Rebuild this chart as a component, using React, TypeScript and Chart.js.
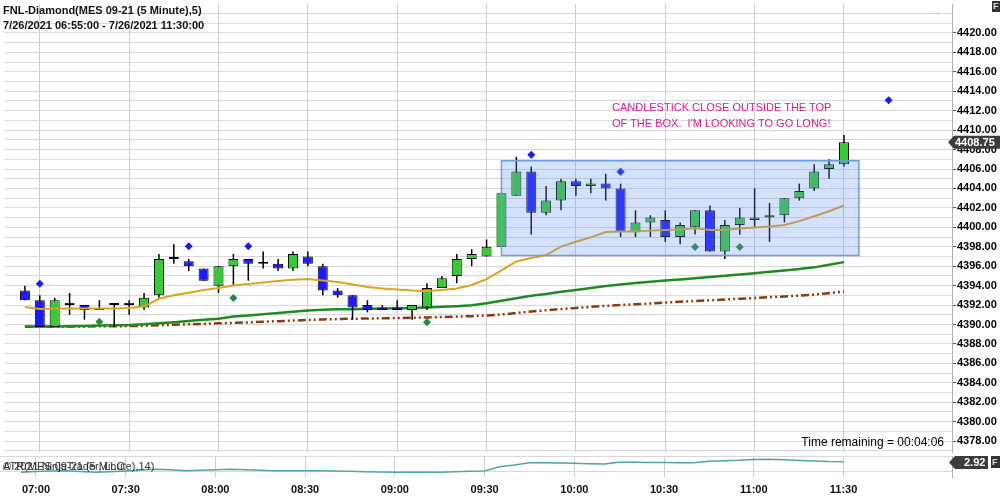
import React, { useEffect, useRef } from "react";
import { Chart, registerables } from "chart.js";

Chart.register(...registerables);

// ---------------- DATA ----------------
const times = [
  "06:55", "07:00", "07:05", "07:10", "07:15", "07:20", "07:25", "07:30", "07:35", "07:40",
  "07:45", "07:50", "07:55", "08:00", "08:05", "08:10", "08:15", "08:20", "08:25", "08:30",
  "08:35", "08:40", "08:45", "08:50", "08:55", "09:00", "09:05", "09:10", "09:15", "09:20",
  "09:25", "09:30", "09:35", "09:40", "09:45", "09:50", "09:55", "10:00", "10:05", "10:10",
  "10:15", "10:20", "10:25", "10:30", "10:35", "10:40", "10:45", "10:50", "10:55", "11:00",
  "11:05", "11:10", "11:15", "11:20", "11:25", "11:30",
];

const opens = [
  4393.5, 4392.5, 4389.75, 4392.25, 4392.0, 4391.5, 4392.0, 4392.25, 4391.75, 4393.0,
  4396.75, 4396.5, 4395.75, 4394.0, 4396.0, 4396.75, 4396.25, 4396.25, 4395.75, 4397.0,
  4396.0, 4393.5, 4393.0, 4392.0, 4391.75, 4391.75, 4391.5, 4391.75, 4393.75, 4395.0,
  4396.75, 4397.0, 4398.0, 4403.25, 4405.75, 4401.5, 4402.75, 4404.75, 4404.25, 4404.5,
  4404.0, 4399.5, 4400.5, 4400.75, 4399.0, 4400.0, 4401.75, 4397.5, 4400.25, 4400.75,
  4401.0, 4401.25, 4403.0, 4404.0, 4406.0, 4406.5,
];
const highs = [
  4394.0, 4393.0, 4392.75, 4393.25, 4392.0, 4392.5, 4392.0, 4392.5, 4393.25, 4397.25,
  4398.25, 4396.75, 4395.75, 4396.0, 4397.25, 4396.75, 4397.5, 4396.75, 4397.5, 4397.5,
  4396.25, 4393.75, 4393.0, 4392.5, 4392.0, 4392.5, 4392.0, 4394.25, 4395.0, 4397.25,
  4397.75, 4398.75, 4403.5, 4407.25, 4406.25, 4404.25, 4405.0, 4405.0, 4405.0, 4405.5,
  4404.5, 4401.75, 4401.25, 4401.75, 4400.5, 4401.75, 4402.25, 4400.75, 4402.0, 4404.0,
  4402.5, 4403.0, 4404.5, 4406.5, 4407.0, 4409.5,
];
const lows = [
  4392.5, 4389.75, 4389.75, 4391.0, 4390.5, 4391.5, 4389.75, 4391.0, 4391.5, 4392.75,
  4396.25, 4395.5, 4394.5, 4393.25, 4394.0, 4394.5, 4395.75, 4395.5, 4395.5, 4396.0,
  4393.0, 4392.75, 4390.5, 4391.25, 4391.5, 4391.5, 4390.5, 4391.5, 4393.75, 4394.25,
  4396.0, 4397.0, 4398.0, 4403.25, 4399.25, 4401.25, 4401.75, 4403.25, 4403.5, 4402.75,
  4399.0, 4399.0, 4399.0, 4398.5, 4398.25, 4399.25, 4397.5, 4396.75, 4399.25, 4400.0,
  4398.5, 4400.5, 4402.75, 4403.75, 4405.0, 4406.25,
];
const closes = [
  4392.5, 4389.75, 4392.5, 4392.0, 4391.5, 4391.5, 4392.0, 4392.0, 4392.75, 4396.75,
  4396.75, 4396.0, 4394.5, 4396.0, 4396.75, 4396.25, 4396.25, 4395.75, 4397.25, 4396.25,
  4393.5, 4393.0, 4391.75, 4391.5, 4391.5, 4391.5, 4392.0, 4393.75, 4394.75, 4396.75,
  4397.25, 4398.0, 4403.5, 4405.75, 4401.5, 4402.75, 4404.75, 4404.25, 4404.5, 4404.0,
  4399.5, 4400.5, 4401.0, 4399.0, 4400.25, 4401.75, 4397.5, 4400.25, 4401.0, 4401.0,
  4401.25, 4403.0, 4403.75, 4405.75, 4406.5, 4408.75,
];

// fast moving average (gold)
const fastMA = [
  4391.81, 4391.59, 4391.64, 4391.64, 4391.64, 4391.64, 4391.64, 4391.69, 4391.84, 4392.65,
  4393.0, 4393.26, 4393.56, 4393.76, 4394.01, 4394.17, 4394.32, 4394.47, 4394.6, 4394.67,
  4394.52, 4394.37, 4394.12, 4393.86, 4393.71, 4393.59, 4393.49, 4393.43, 4393.56, 4393.71,
  4394.06, 4394.67, 4395.58, 4396.49, 4396.85, 4397.15, 4398.01, 4398.51, 4398.97, 4399.52,
  4399.56, 4399.56, 4399.66, 4399.73, 4399.78, 4399.9, 4399.73, 4399.73, 4399.88, 4399.98,
  4400.08, 4400.23, 4400.64, 4401.14, 4401.65, 4402.25,
];
// medium moving average (green)
const midMA = [
  4389.79, 4389.79, 4389.8, 4389.82, 4389.85, 4389.89, 4389.92, 4389.95, 4390.02, 4390.12,
  4390.22, 4390.35, 4390.48, 4390.6, 4390.83, 4390.93, 4391.05, 4391.18, 4391.31, 4391.44,
  4391.52, 4391.56, 4391.58, 4391.61, 4391.64, 4391.67, 4391.71, 4391.76, 4391.82, 4391.89,
  4391.97, 4392.19, 4392.45, 4392.7, 4392.95, 4393.15, 4393.36, 4393.56, 4393.76, 4393.96,
  4394.12, 4394.27, 4394.39, 4394.52, 4394.64, 4394.75, 4394.88, 4395.02, 4395.15, 4395.28,
  4395.42, 4395.56, 4395.7, 4395.88, 4396.14, 4396.42,
];
// slow moving average (brown dash-dot)
const slowMA = [
  4389.77, 4389.77, 4389.78, 4389.79, 4389.8, 4389.81, 4389.82, 4389.84, 4389.87, 4389.92,
  4389.97, 4390.02, 4390.07, 4390.12, 4390.17, 4390.22, 4390.28, 4390.34, 4390.4, 4390.47,
  4390.52, 4390.56, 4390.59, 4390.62, 4390.64, 4390.67, 4390.7, 4390.73, 4390.77, 4390.81,
  4390.86, 4390.93, 4391.03, 4391.18, 4391.33, 4391.47, 4391.59, 4391.7, 4391.81, 4391.92,
  4392.01, 4392.09, 4392.17, 4392.26, 4392.35, 4392.42, 4392.49, 4392.57, 4392.65, 4392.73,
  4392.81, 4392.89, 4392.97, 4393.08, 4393.22, 4393.39,
];
// ATR(14)
const atr = [
  1.6, 1.7, 1.76, 1.8, 1.7, 1.6, 1.66, 1.76, 1.89, 1.97,
  1.91, 1.8, 1.85, 1.92, 1.97, 1.91, 1.85, 1.8, 1.8, 1.8,
  1.8, 1.76, 1.72, 1.67, 1.64, 1.6, 1.6, 1.6, 1.6, 1.66,
  1.72, 1.76, 2.3, 2.51, 2.8, 2.8, 2.76, 2.72, 2.67, 2.63,
  2.85, 2.85, 2.82, 2.82, 2.8, 2.8, 2.97, 3.04, 3.09, 3.19,
  3.22, 3.16, 3.07, 3.01, 2.94, 2.92,
];

const blueSignalTimes = ["07:00", "07:50", "08:10", "09:45", "10:15", "11:45"];
const blueSignalPrices = [4394.2, 4398.04, 4398.04, 4407.48, 4405.72, 4413.07];
const greenSignalTimes = ["07:20", "08:05", "09:10", "10:40", "10:55"];
const greenSignalPrices = [4390.29, 4392.72, 4390.22, 4397.98, 4397.98];

const xTickLabels = ["07:00", "07:30", "08:00", "08:30", "09:00", "09:30", "10:00", "10:30", "11:00", "11:30"];
const priceTickLabels = [
  "4378.00", "4380.00", "4382.00", "4384.00", "4386.00", "4388.00", "4390.00", "4392.00",
  "4394.00", "4396.00", "4398.00", "4400.00", "4402.00", "4404.00", "4406.00", "4408.00",
  "4410.00", "4412.00", "4414.00", "4416.00", "4418.00", "4420.00",
];

// box drawn on the chart (time / price coordinates)
const boxStart = "09:35";
const boxEnd = "11:35";
const boxTop = 4406.85;
const boxBottom = 4397.1;

// ---------------- HELPERS / STYLE ----------------
const FONT = "'Liberation Sans', Arial, Helvetica, sans-serif";
const toMin = (t: string) => {
  const [h, m] = t.split(":").map(Number);
  return h * 60 + m;
};
const X_MIN = 407.98;
const X_MAX = 726.27;
const Y_MIN = 4376.88;
const Y_MAX = 4422.98;
const ATR_MIN = 1.015;
const ATR_MAX = 3.63;
const AXIS_W = 48;

const UP = "#33cc33";
const DOWN = "#1a1aff";

function drawTag(ctx: CanvasRenderingContext2D, xLeft: number, y: number, text: string, right: number, textX: number) {
  ctx.save();
  ctx.fillStyle = "#3c3c3c";
  ctx.beginPath();
  ctx.moveTo(xLeft, y);
  ctx.lineTo(xLeft + 6, y - 6.5);
  ctx.lineTo(right, y - 6.5);
  ctx.lineTo(right, y + 6.5);
  ctx.lineTo(xLeft + 6, y + 6.5);
  ctx.closePath();
  ctx.fill();
  ctx.fillStyle = "#ffffff";
  ctx.font = `bold 11px ${FONT}`;
  ctx.textBaseline = "middle";
  ctx.textAlign = "left";
  ctx.fillText(text, textX, y + 0.5);
  ctx.restore();
}

const boxPlugin = {
  id: "rangeBox",
  afterDatasetsDraw(chart: any) {
    const { ctx, chartArea: a, scales } = chart;
    const x = scales.x;
    const y = scales.y;
    const l = x.getPixelForValue(toMin(boxStart));
    const r = x.getPixelForValue(toMin(boxEnd));
    const t = y.getPixelForValue(boxTop);
    const b = y.getPixelForValue(boxBottom);
    ctx.save();
    ctx.beginPath();
    ctx.rect(a.left, a.top, a.right - a.left, a.bottom - a.top);
    ctx.clip();
    ctx.fillStyle = "rgba(100,149,237,0.28)";
    ctx.fillRect(l, t, r - l, b - t);
    ctx.strokeStyle = "#6d9be8";
    ctx.lineWidth = 1.5;
    ctx.strokeRect(l, t, r - l, b - t);
    ctx.restore();
  },
};

const priceTagPlugin = {
  id: "priceTag",
  afterDraw(chart: any) {
    const { ctx, chartArea: a, scales } = chart;
    const last = closes[closes.length - 1];
    const y = scales.y.getPixelForValue(last);
    drawTag(ctx, a.right - 4, y, last.toFixed(2), 1000, a.right + 3);
  },
};

const atrTagPlugin = {
  id: "atrTag",
  afterDraw(chart: any) {
    const { ctx, chartArea: a, scales } = chart;
    const last = atr[atr.length - 1];
    const y = Math.max(6.5, scales.y.getPixelForValue(last));
    drawTag(ctx, a.right - 3, y, last.toFixed(2), 988, a.right + 12);
  },
};

function xScale(showLabels: boolean, height: number) {
  return {
    type: "linear",
    min: X_MIN,
    max: X_MAX,
    offset: false,
    grid: { color: "#cccccc", drawTicks: false, offset: false, lineWidth: 1 },
    border: { display: false },
    ticks: {
      display: showLabels,
      autoSkip: false,
      maxRotation: 0,
      padding: 6,
      color: "#111",
      font: { family: FONT, size: 11, weight: "bold" },
      callback: (v: number) => {
        const idx = xTickLabels.findIndex((l) => toMin(l) === v);
        return idx >= 0 ? xTickLabels[idx] : "";
      },
    },
    afterBuildTicks: (s: any) => {
      s.ticks = xTickLabels.map((l) => ({ value: toMin(l) }));
    },
    afterFit: (s: any) => {
      s.height = height;
      s.paddingLeft = 0;
      s.paddingRight = 0;
    },
  };
}

function topConfig(): any {
  const xs = times.map(toMin);
  const datasets: any[] = [
    {
      type: "line",
      label: "slow",
      data: xs.map((x, i) => ({ x, y: slowMA[i] })),
      borderColor: "#8b3a12",
      borderWidth: 2.5,
      borderDash: [8, 3, 2, 3, 2, 3],
      pointRadius: 0,
      tension: 0,
      fill: false,
      order: 10,
    },
    {
      type: "line",
      label: "mid",
      data: xs.map((x, i) => ({ x, y: midMA[i] })),
      borderColor: "#1f8a1f",
      borderWidth: 2.5,
      pointRadius: 0,
      tension: 0,
      fill: false,
      order: 9,
    },
    {
      type: "bar",
      label: "wicks",
      data: xs.map((x, i) => ({ x, y: [lows[i], highs[i]] })),
      backgroundColor: "#000",
      borderWidth: 0,
      grouped: false,
      maxBarThickness: 1.5,
      minBarLength: 1,
      order: 8,
    },
    {
      type: "bar",
      label: "bodies",
      data: xs.map((x, i) => ({ x, y: [opens[i], closes[i]] })),
      backgroundColor: xs.map((_, i) => (closes[i] >= opens[i] ? UP : DOWN)),
      borderColor: "#000",
      borderWidth: 1,
      borderSkipped: false,
      grouped: false,
      maxBarThickness: 10,
      minBarLength: 2,
      order: 7,
    },
    {
      type: "line",
      label: "fast",
      data: xs.map((x, i) => ({ x, y: fastMA[i] })),
      borderColor: "#daa520",
      borderWidth: 2,
      pointRadius: 0,
      tension: 0,
      fill: false,
      order: 6,
    },
    {
      type: "line",
      label: "blue",
      data: blueSignalTimes.map((t, i) => ({ x: toMin(t), y: blueSignalPrices[i] })),
      showLine: false,
      pointStyle: "rectRot",
      pointRadius: 4,
      pointBackgroundColor: DOWN,
      pointBorderWidth: 0,
      order: 2,
    },
    {
      type: "line",
      label: "green",
      data: greenSignalTimes.map((t, i) => ({ x: toMin(t), y: greenSignalPrices[i] })),
      showLine: false,
      pointStyle: "rectRot",
      pointRadius: 4,
      pointBackgroundColor: "#1f8a3c",
      pointBorderWidth: 0,
      order: 2,
    },
  ];
  const labelled = priceTickLabels.map(Number);
  return {
    type: "line",
    data: { datasets },
    options: {
      responsive: false,
      animation: false,
      devicePixelRatio: 1,
      events: [],
      layout: { padding: 0 },
      plugins: { legend: { display: false }, tooltip: { enabled: false } },
      scales: {
        x: xScale(false, 0),
        y: {
          type: "linear",
          position: "right",
          min: Y_MIN,
          max: Y_MAX,
          beginAtZero: false,
          grid: {
            color: "#d9d9d9",
            drawTicks: true,
            tickLength: 4,
            tickColor: (c: any) => (c.tick && labelled.includes(c.tick.value) ? "#555" : "rgba(0,0,0,0)"),
          },
          border: { display: true, color: "#b0b0b0" },
          ticks: {
            autoSkip: false,
            padding: 1,
            color: "#000",
            font: { family: FONT, size: 11, weight: "bold" },
            callback: (v: number) => {
              const idx = labelled.indexOf(v);
              return idx >= 0 ? priceTickLabels[idx] : "";
            },
          },
          afterBuildTicks: (s: any) => {
            const t: any[] = [];
            for (let v = Math.ceil(Y_MIN); v <= Math.floor(Y_MAX); v++) t.push({ value: v });
            s.ticks = t;
          },
          afterFit: (s: any) => {
            s.width = AXIS_W;
            s.paddingTop = 0;
            s.paddingBottom = 0;
          },
        },
      },
    },
    plugins: [boxPlugin, priceTagPlugin],
  };
}

function bottomConfig(): any {
  const xs = times.map(toMin);
  return {
    type: "line",
    data: {
      datasets: [
        {
          label: "ATR",
          data: xs.map((x, i) => ({ x, y: atr[i] })),
          borderColor: "#4fa6a6",
          borderWidth: 1.5,
          pointRadius: 0,
          tension: 0,
          fill: false,
        },
      ],
    },
    options: {
      responsive: false,
      animation: false,
      devicePixelRatio: 1,
      events: [],
      layout: { padding: 0 },
      plugins: { legend: { display: false }, tooltip: { enabled: false } },
      scales: {
        x: xScale(true, 20),
        y: {
          type: "linear",
          position: "right",
          min: ATR_MIN,
          max: ATR_MAX,
          grid: { color: "#d9d9d9", drawTicks: false },
          border: { display: true, color: "#b0b0b0" },
          ticks: { display: false },
          afterBuildTicks: (s: any) => {
            s.ticks = [{ value: 1.75 }, { value: ATR_MAX }];
          },
          afterFit: (s: any) => {
            s.width = AXIS_W;
            s.paddingTop = 0;
            s.paddingBottom = 0;
          },
        },
      },
    },
    plugins: [atrTagPlugin],
  };
}

export default function App() {
  const topRef = useRef<HTMLCanvasElement>(null);
  const botRef = useRef<HTMLCanvasElement>(null);

  useEffect(() => {
    const top = new Chart(topRef.current as HTMLCanvasElement, topConfig());
    const bot = new Chart(botRef.current as HTMLCanvasElement, bottomConfig());
    return () => {
      top.destroy();
      bot.destroy();
    };
  }, []);

  const abs: React.CSSProperties = { position: "absolute", whiteSpace: "pre", margin: 0 };

  return (
    <div
      style={{
        position: "fixed",
        left: 0,
        top: 0,
        width: 1000,
        height: 497,
        background: "#ffffff",
        overflow: "hidden",
        fontFamily: FONT,
      }}
    >
      <canvas ref={topRef} width={1000} height={456} style={{ position: "absolute", left: 0, top: 0 }} />
      <canvas ref={botRef} width={1000} height={41} style={{ position: "absolute", left: 0, top: 456 }} />

      <div style={{ ...abs, left: 3, top: 3, font: `bold 11px ${FONT}`, lineHeight: "14.5px", color: "#111" }}>
        {"FNL-Diamond(MES 09-21 (5 Minute),5)\n7/26/2021 06:55:00 - 7/26/2021 11:30:00"}
      </div>

      <div style={{ ...abs, left: 612, top: 99, font: `11px ${FONT}`, lineHeight: "16px", color: "#e6168c" }}>
        {"CANDLESTICK CLOSE OUTSIDE THE TOP\nOF THE BOX.  I'M LOOKING TO GO LONG!"}
      </div>

      <div style={{ ...abs, right: 56, top: 435, font: `12px ${FONT}`, lineHeight: "14px", color: "#000" }}>
        Time remaining = 00:04:06
      </div>

      <div style={{ ...abs, left: 3, top: 459, font: `11px ${FONT}`, lineHeight: "14px", color: "#333" }}>
        ATR(MES 09-21 (5 Minute),14)
      </div>
      <div style={{ ...abs, left: 3, top: 459, font: `11px ${FONT}`, lineHeight: "14px", color: "#333" }}>
        © 2021 NinjaTrader, LLC
      </div>

      <div style={{ ...abs, left: 930, top: 4, font: `12px ${FONT}`, lineHeight: "14px", color: "#c4c4c4" }}>→</div>

      <div
        style={{
          ...abs,
          left: 992,
          top: 1,
          width: 10,
          height: 11,
          background: "#333",
          color: "#ddd",
          font: `bold 9px ${FONT}`,
          lineHeight: "11px",
          paddingLeft: 1,
        }}
      >
        F
      </div>
      <div
        style={{
          ...abs,
          left: 991,
          top: 456,
          width: 10,
          height: 12,
          background: "#333",
          color: "#ddd",
          font: `bold 9px ${FONT}`,
          lineHeight: "12px",
          paddingLeft: 1,
        }}
      >
        F
      </div>
    </div>
  );
}
